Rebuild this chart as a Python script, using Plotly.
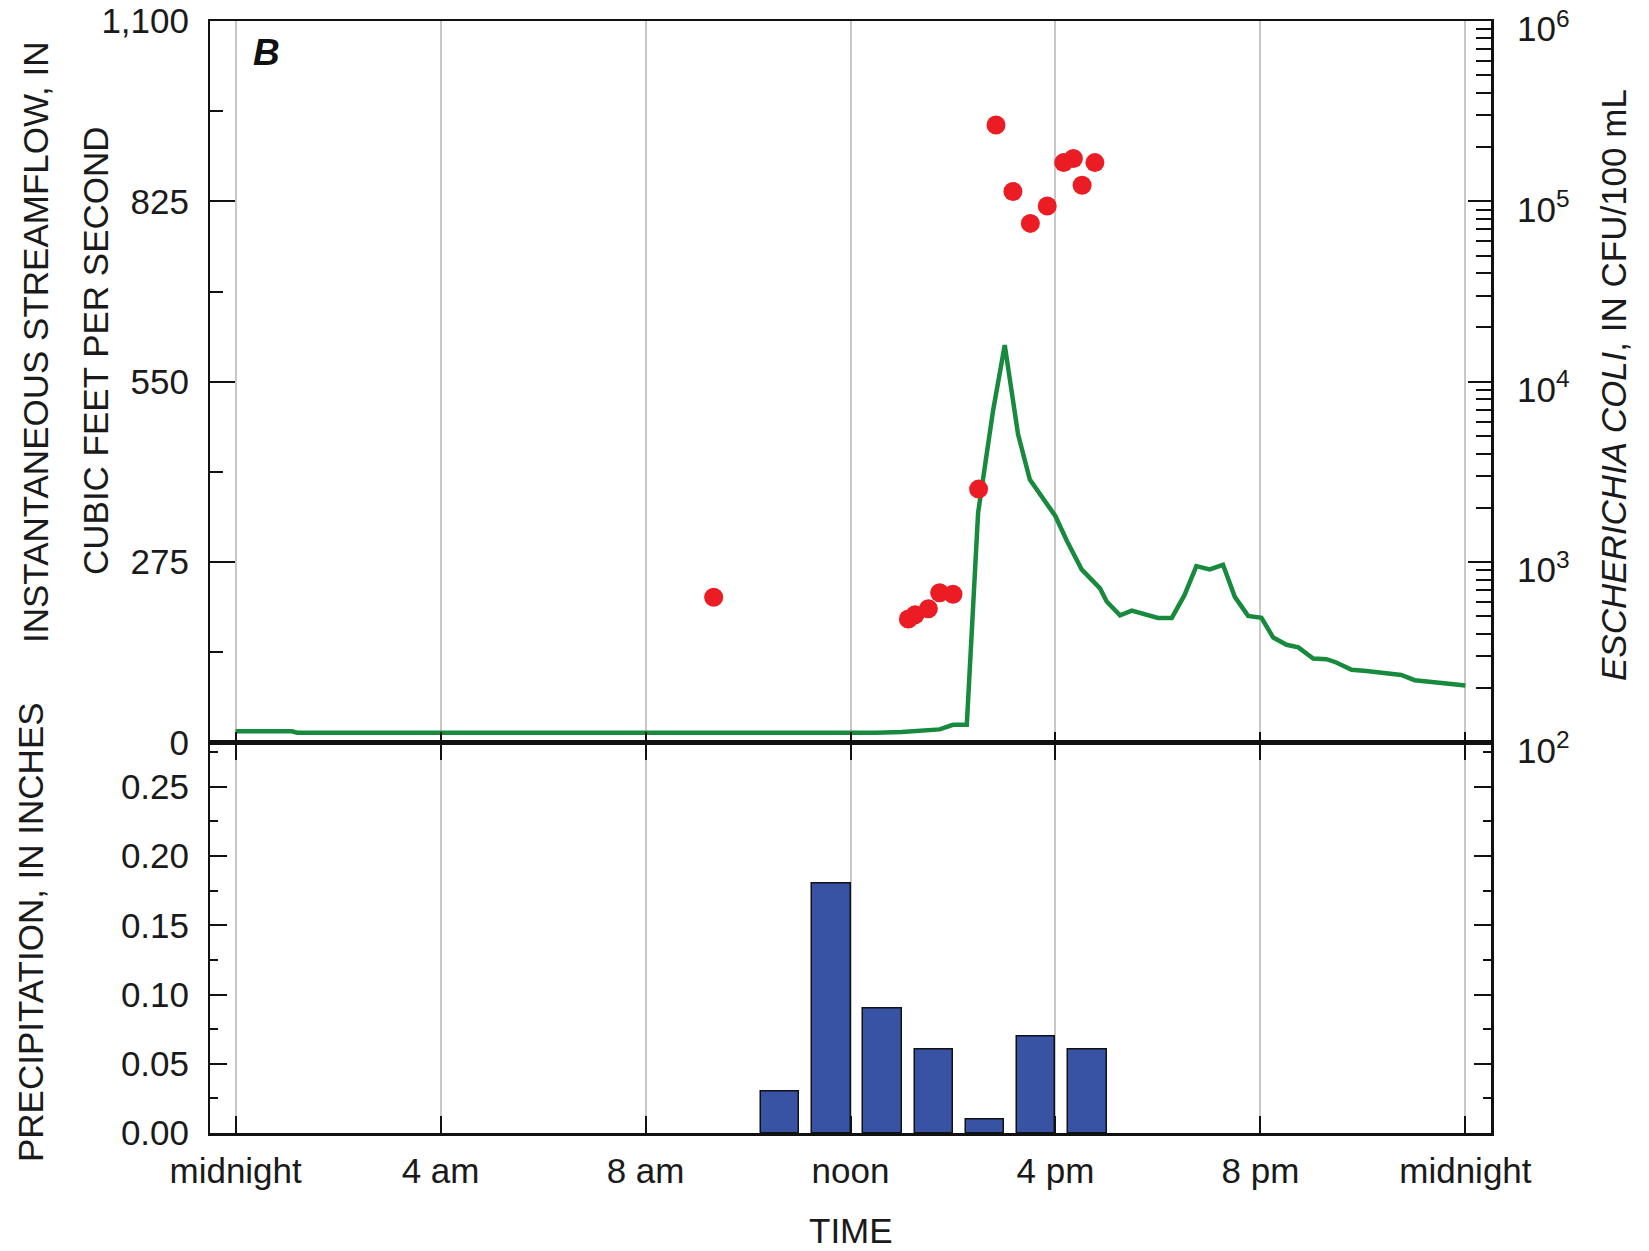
import plotly.graph_objects as go

# ---------------- data ----------------
flow_hours = [0, 1.1, 1.2, 5.9, 6.0, 11.0, 12.0, 12.5, 13.0, 13.5, 13.74, 14.0, 14.27,
              14.49, 14.78, 15.01, 15.27, 15.5, 16.0, 16.22, 16.51, 16.87, 17.0, 17.26,
              17.49, 18.0, 18.27, 18.52, 18.75, 19.01, 19.27, 19.5, 19.76, 20.02, 20.25,
              20.51, 20.74, 21.03, 21.29, 21.48, 21.78, 22.07, 22.46, 22.75, 23.01,
              23.37, 23.63, 24.0]
flow_cfs = [17, 17, 15, 15, 14, 14, 14, 15, 16, 18, 20, 27, 27,
            350, 505, 606, 470, 401, 345, 308, 264, 235, 215, 194,
            201, 190, 190, 225, 269, 264, 271, 222, 193, 190, 160,
            149, 145, 128, 127, 122, 111, 109, 105, 103, 95,
            93, 90, 87]

ecoli_hours = [9.33, 13.13, 13.26, 13.52, 13.74, 14.0, 14.5, 14.84, 15.17, 15.51,
               15.84, 16.16, 16.35, 16.52, 16.77]
ecoli_cfu = [638, 484, 510, 552, 676, 664, 2540, 265000, 113500, 75500,
             94200, 164000, 173000, 123000, 164000]

precip_hour_end = [11, 12, 13, 14, 15, 16, 17]
precip_in = [0.03, 0.18, 0.09, 0.06, 0.01, 0.07, 0.06]

time_ticks = [0, 4, 8, 12, 16, 20, 24]
time_labels = ["midnight", "4 am", "8 am", "noon", "4 pm", "8 pm", "midnight"]
flow_ticks = [0, 275, 550, 825, 1100]
flow_labels = ["0", "275", "550", "825", "1,100"]
ecoli_ticks = [1e2, 1e3, 1e4, 1e5, 1e6]
ecoli_labels = ["10<sup>2</sup>", "10<sup>3</sup>", "10<sup>4</sup>", "10<sup>5</sup>", "10<sup>6</sup>"]
precip_ticks = [0, 0.05, 0.10, 0.15, 0.20, 0.25]

# ---------------- geometry ----------------
W, H = 1649, 1251
L, R, T, B = 210, 1491, 21, 1133
SPLIT = 742.5
pw, ph = R - L, B - T
split_frac = (B - SPLIT) / ph

def px(x):
    return (x - L) / pw

def py(y):
    return (B - y) / ph

FONT = "Liberation Sans, Arial, sans-serif"
TXT = "#1a1a1a"
GRID = "#c8c8c8"
FS = 35

fig = go.Figure()

fig.add_trace(go.Bar(
    x=precip_hour_end, y=precip_in, width=0.75, offset=-0.75,
    marker=dict(color="#3953A4", line=dict(color="#111111", width=1.5)),
    xaxis="x", yaxis="y2", showlegend=False))

fig.add_trace(go.Scatter(
    x=flow_hours, y=flow_cfs, mode="lines",
    line=dict(color="#178A3E", width=4.5),
    xaxis="x2", yaxis="y", showlegend=False))

fig.add_trace(go.Scatter(
    x=ecoli_hours, y=ecoli_cfu, mode="markers",
    marker=dict(color="#EC1C24", size=19, line=dict(width=0)),
    xaxis="x2", yaxis="y3", showlegend=False))

minor_log = [k * 10 ** n for n in range(2, 6) for k in range(2, 10)]

fig.update_layout(
    width=W, height=H,
    margin=dict(l=L, r=W - R, t=T, b=H - B, pad=0, autoexpand=False),
    paper_bgcolor="white", plot_bgcolor="white",
    font=dict(family=FONT, size=FS, color=TXT),
    bargap=0,
    xaxis=dict(
        domain=[0, 1], anchor="y2", range=[-0.5, 24.5], automargin=False,
        tickmode="array", tickvals=time_ticks, ticktext=time_labels,
        ticks="inside", ticklen=17, tickwidth=2, tickcolor="#111",
        showgrid=True, gridcolor=GRID, gridwidth=1.5,
        showline=True, linecolor="#111", linewidth=3, mirror="ticks",
        zeroline=False, ticklabelstandoff=5, ticklabeloverflow="allow",
    ),
    xaxis2=dict(
        domain=[0, 1], anchor="y", matches="x", range=[-0.5, 24.5], automargin=False,
        tickmode="array", tickvals=time_ticks, showticklabels=False,
        ticks="inside", ticklen=11, tickwidth=2, tickcolor="#111",
        showgrid=True, gridcolor=GRID, gridwidth=1.5,
        showline=True, linecolor="#111", linewidth=2, mirror=True,
        zeroline=False,
    ),
    yaxis=dict(
        domain=[split_frac, 1], anchor="x2", range=[0, 1100], automargin=False,
        tickmode="array", tickvals=flow_ticks, ticktext=flow_labels,
        ticks="inside", ticklen=25, tickwidth=2, tickcolor="#111",
        minor=dict(ticks="inside", ticklen=13, tickwidth=2, tickcolor="#111",
                   tick0=0, dtick=137.5, showgrid=False),
        showgrid=False, zeroline=False,
        showline=True, linecolor="#111", linewidth=2,
        ticklabelstandoff=12, ticklabeloverflow="allow",
    ),
    yaxis3=dict(
        overlaying="y", side="right", anchor="x2", type="log", range=[2, 6], automargin=False,
        tickmode="array", tickvals=ecoli_ticks, ticktext=ecoli_labels,
        ticks="inside", ticklen=23, tickwidth=2, tickcolor="#111",
        minor=dict(ticks="inside", ticklen=15, tickwidth=2, tickcolor="#111",
                   tickmode="array", tickvals=minor_log, showgrid=False),
        showgrid=False, zeroline=False,
        showline=True, linecolor="#111", linewidth=3,
        ticklabelstandoff=16, ticklabelshift=8, ticklabeloverflow="allow",
    ),
    yaxis2=dict(
        domain=[0, split_frac], anchor="x", range=[0, 0.282], automargin=False,
        tickmode="array", tickvals=precip_ticks, tickformat=".2f",
        ticks="inside", ticklen=17, tickwidth=2, tickcolor="#111",
        minor=dict(ticks="inside", ticklen=8, tickwidth=2, tickcolor="#111",
                   tick0=0, dtick=0.025, showgrid=False),
        showgrid=False, zeroline=False,
        showline=True, linecolor="#111", linewidth=2,
        ticklabelstandoff=12, ticklabeloverflow="allow",
    ),
    yaxis4=dict(
        overlaying="y2", side="right", anchor="x", range=[0, 0.282], automargin=False,
        tickmode="array", tickvals=precip_ticks, showticklabels=False,
        ticks="inside", ticklen=17, tickwidth=2, tickcolor="#111",
        minor=dict(ticks="inside", ticklen=8, tickwidth=2, tickcolor="#111",
                   tick0=0, dtick=0.025, showgrid=False),
        showgrid=False, zeroline=False,
        showline=True, linecolor="#111", linewidth=3,
    ),
)

# dummy trace to activate yaxis4
fig.add_trace(go.Scatter(x=[None], y=[None], xaxis="x", yaxis="y4",
                         showlegend=False, hoverinfo="skip"))

ann = dict(xref="paper", yref="paper", showarrow=False,
           font=dict(family=FONT, size=FS, color=TXT))
fig.add_annotation(text="INSTANTANEOUS STREAMFLOW, IN", x=px(35), y=py(342),
                   textangle=-90, xanchor="center", yanchor="middle", **ann)
fig.add_annotation(text="CUBIC FEET PER SECOND", x=px(95), y=py(351),
                   textangle=-90, xanchor="center", yanchor="middle", **ann)
fig.add_annotation(text="PRECIPITATION, IN INCHES", x=px(30), y=py(932),
                   textangle=-90, xanchor="center", yanchor="middle", **ann)
fig.add_annotation(text="<i>ESCHERICHIA COLI</i>, IN CFU/100 mL", x=px(1614), y=py(385),
                   textangle=-90, xanchor="center", yanchor="middle", **ann)
fig.add_annotation(text="TIME", x=px(851), y=py(1230),
                   xanchor="center", yanchor="middle", **ann)
fig.add_annotation(text="<b><i>B</i></b>", x=px(266), y=py(52),
                   xanchor="center", yanchor="middle",
                   xref="paper", yref="paper", showarrow=False,
                   font=dict(family=FONT, size=37, color="#111"))

fig.write_html("out.html", config={"displayModeBar": False},
               post_script="document.body.style.margin='0';document.body.style.overflow='hidden';")
